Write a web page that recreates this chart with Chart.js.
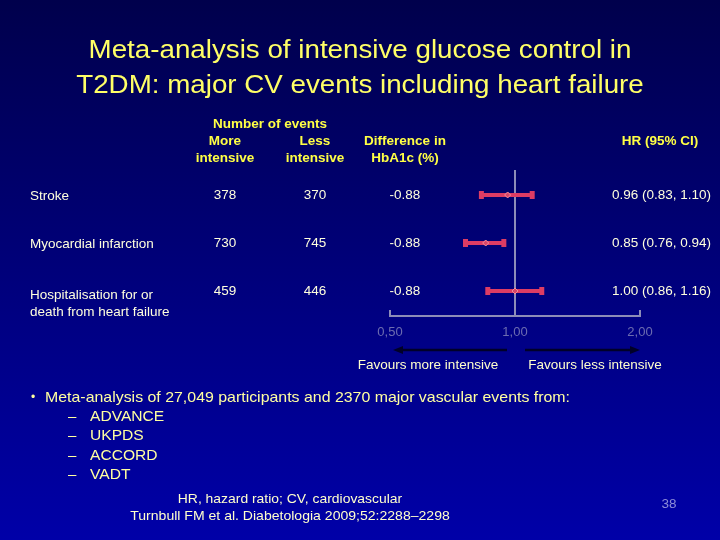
<!DOCTYPE html>
<html>
<head>
<meta charset="utf-8">
<script src="https://cdn.jsdelivr.net/npm/chart.js@4.4.1/dist/chart.umd.min.js"></script>
<style>
    body { margin: 0; width: 720px; height: 540px; overflow: hidden; background: linear-gradient(#00004c, #0000a8); font-family: "Liberation Sans", Arial, sans-serif; }
    #wrap { position: relative; width: 720px; height: 540px; }
    canvas { position: absolute; left: 0; top: 0; }
    .t { position: absolute; white-space: pre; line-height: 1.2; }
</style>
</head>
<body>
<div id="wrap">
    <canvas id="forest_plot" width="720" height="540"></canvas>
</div>
<script>
'use strict';

// Data
const outcomes = ['Stroke', 'Myocardial infarction', 'Hospitalisation for or\ndeath from heart failure'];
const eventsMore = [378, 730, 459];
const eventsLess = [370, 745, 446];
const hba1cDiff = [-0.88, -0.88, -0.88];
const hazardRatio = [0.96, 0.85, 1.00];
const ciLower = [0.83, 0.76, 0.86];
const ciUpper = [1.10, 0.94, 1.16];
const xTicks = [0.5, 1, 2];
const trials = ['ADVANCE', 'UKPDS', 'ACCORD', 'VADT'];

const wrap = document.getElementById('wrap');

/**
 * Put a piece of real text on the slide.
 * The slide text is a bit wider than Arial, so an optional horizontal stretch is allowed.
 */
function addText(text, x, y, style, align, stretch) {
    const el = document.createElement('div');
    el.className = 't';
    el.textContent = text;
    Object.assign(el.style, style);
    el.style.left = x + 'px';
    el.style.top = y + 'px';
    const sx = stretch ? ' scaleX(' + stretch + ')' : '';
    if (align === 'center') {
        el.style.transform = 'translate(-50%, -50%)' + sx;
    } else if (align === 'right') {
        el.style.transform = 'translate(-100%, -50%)' + sx;
        el.style.transformOrigin = '100% 50%';
    } else {
        el.style.transform = 'translate(0, -50%)' + sx;
        el.style.transformOrigin = '0 50%';
    }
    wrap.appendChild(el);
    return el;
}

const fmt = v => v.toFixed(2);

// Draws the small end ticks on the axis and the "favours" arrows
const decorPlugin = {
    id: 'decor',
    afterDraw(chart) {
        const ctx = chart.ctx;
        const x = chart.scales.x;
        const bottom = chart.chartArea.bottom;
        ctx.save();
        ctx.strokeStyle = '#8c8cb8';
        ctx.lineWidth = 2;
        [xTicks[0], xTicks[xTicks.length - 1]].forEach(v => {
            const px = x.getPixelForValue(v);
            ctx.beginPath();
            ctx.moveTo(px, bottom - 6);
            ctx.lineTo(px, bottom);
            ctx.stroke();
        });

        // arrows below the axis
        const ay = bottom + 34;
        const x1 = x.getPixelForValue(1);
        const xl = x.getPixelForValue(xTicks[0]);
        const xr = x.getPixelForValue(xTicks[2]);
        ctx.strokeStyle = '#000028';
        ctx.fillStyle = '#000028';
        ctx.lineWidth = 2.5;
        ctx.beginPath();
        ctx.moveTo(x1 - 8, ay);
        ctx.lineTo(xl + 10, ay);
        ctx.moveTo(x1 + 10, ay);
        ctx.lineTo(xr - 8, ay);
        ctx.stroke();
        ctx.beginPath();
        ctx.moveTo(xl + 3, ay);
        ctx.lineTo(xl + 13, ay - 4);
        ctx.lineTo(xl + 13, ay + 4);
        ctx.closePath();
        ctx.moveTo(xr, ay);
        ctx.lineTo(xr - 10, ay - 4);
        ctx.lineTo(xr - 10, ay + 4);
        ctx.closePath();
        ctx.fill();
        ctx.restore();
    }
};

// One dataset per outcome: lower CI, point estimate, upper CI
const datasets = outcomes.map((name, i) => ({
    label: name,
    data: [
        { x: ciLower[i], y: i },
        { x: hazardRatio[i], y: i },
        { x: ciUpper[i], y: i }
    ],
    showLine: true,
    borderColor: '#dc3c64',
    borderWidth: 4,
    pointStyle: c => c.dataIndex === 1 ? 'rectRot' : 'line',
    pointRotation: c => c.dataIndex === 1 ? 0 : 90,
    pointRadius: c => c.dataIndex === 1 ? 3 : 4,
    pointBorderWidth: c => c.dataIndex === 1 ? 1 : 5,
    pointBackgroundColor: '#d84468',
    pointBorderColor: c => c.dataIndex === 1 ? '#f0909c' : '#dc3c64'
}));

const chart = new Chart(document.getElementById('forest_plot'), {
    type: 'scatter',
    data: { datasets: datasets },
    options: {
        responsive: false,
        animation: false,
        layout: { padding: { left: 390, right: 80, top: 170, bottom: 194 } },
        plugins: {
            legend: { display: false },
            title: { display: false },
            tooltip: { enabled: false }
        },
        scales: {
            x: {
                type: 'logarithmic',
                min: 0.5,
                max: 2,
                afterBuildTicks: s => { s.ticks = xTicks.map(v => ({ value: v })); },
                afterFit: s => { s.height = 30; },
                ticks: {
                    color: '#6c6cb0',
                    padding: 9,
                    font: { family: '"Liberation Sans", Arial, sans-serif', size: 13 },
                    callback: v => Number(v).toFixed(2).replace('.', ',')
                },
                grid: {
                    drawTicks: false,
                    lineWidth: 2,
                    color: c => (c.tick && c.tick.value === 1) ? '#8c8cb8' : 'rgba(0,0,0,0)'
                },
                border: { display: true, color: '#8c8cb8', width: 2 }
            },
            y: {
                display: false,
                reverse: true,
                min: -0.52,
                max: 2.52
            }
        }
    },
    plugins: [decorPlugin]
});

// Slide texts
const font = (size, color, bold) => ({ fontSize: size + 'px', color: color, fontWeight: bold ? 'bold' : 'normal' });

addText('Meta-analysis of intensive glucose control in\nT2DM: major CV events including heart failure', 360, 67,
    Object.assign(font(25, '#ffff66'), { lineHeight: '35px', textAlign: 'center' }), 'center', 1.11);

const hdr = font(13.5, '#ffff44', true);
addText('Number of events', 270, 124, hdr, 'center');
addText('More\nintensive', 225, 149, Object.assign({}, hdr, { textAlign: 'center', lineHeight: '17px' }), 'center');
addText('Less\nintensive', 315, 149, Object.assign({}, hdr, { textAlign: 'center', lineHeight: '17px' }), 'center');
addText('Difference in\nHbA1c (%)', 405, 149, Object.assign({}, hdr, { textAlign: 'center', lineHeight: '17px' }), 'center');
addText('HR (95% CI)', 660, 141, hdr, 'center');

// Table rows aligned on the chart's own y scale
const cell = font(13.5, '#ffffdd');
outcomes.forEach((name, i) => {
    const y = chart.scales.y.getPixelForValue(i);
    const multi = name.indexOf('\n') >= 0;
    addText(name, 30, multi ? y + 12 : y, Object.assign({}, cell, { lineHeight: '17px' }), 'left');
    addText(String(eventsMore[i]), 225, y, cell, 'center');
    addText(String(eventsLess[i]), 315, y, cell, 'center');
    addText(fmt(hba1cDiff[i]), 405, y, cell, 'center');
    addText(fmt(hazardRatio[i]) + ' (' + fmt(ciLower[i]) + ', ' + fmt(ciUpper[i]) + ')', 711, y, cell, 'right');
});

const fav = font(13.5, '#ffffcc');
addText('Favours more intensive', 428, 365, fav, 'center');
addText('Favours less intensive', 595, 365, fav, 'center');

// Bullets
const bullet = font(15, '#ffffa0');
addText('•', 31, 397, font(12, '#ffffa0'), 'left');
addText('Meta-analysis of 27,049 participants and 2370 major vascular events from:', 45, 397, bullet, 'left', 1.06);
trials.forEach((t, i) => {
    const y = 416 + i * 19.3;
    addText('–', 68, y, bullet, 'left');
    addText(t, 90, y, bullet, 'left', 1.04);
});

// Footer
const foot = font(13.5, '#ffffcc');
addText('HR, hazard ratio; CV, cardiovascular', 290, 499, foot, 'center', 1.03);
addText('Turnbull FM et al. Diabetologia 2009;52:2288–2298', 290, 516, foot, 'center', 1.04);
addText('38', 669, 504, font(13.5, '#8c8cd8'), 'center');
</script>
</body>
</html>
